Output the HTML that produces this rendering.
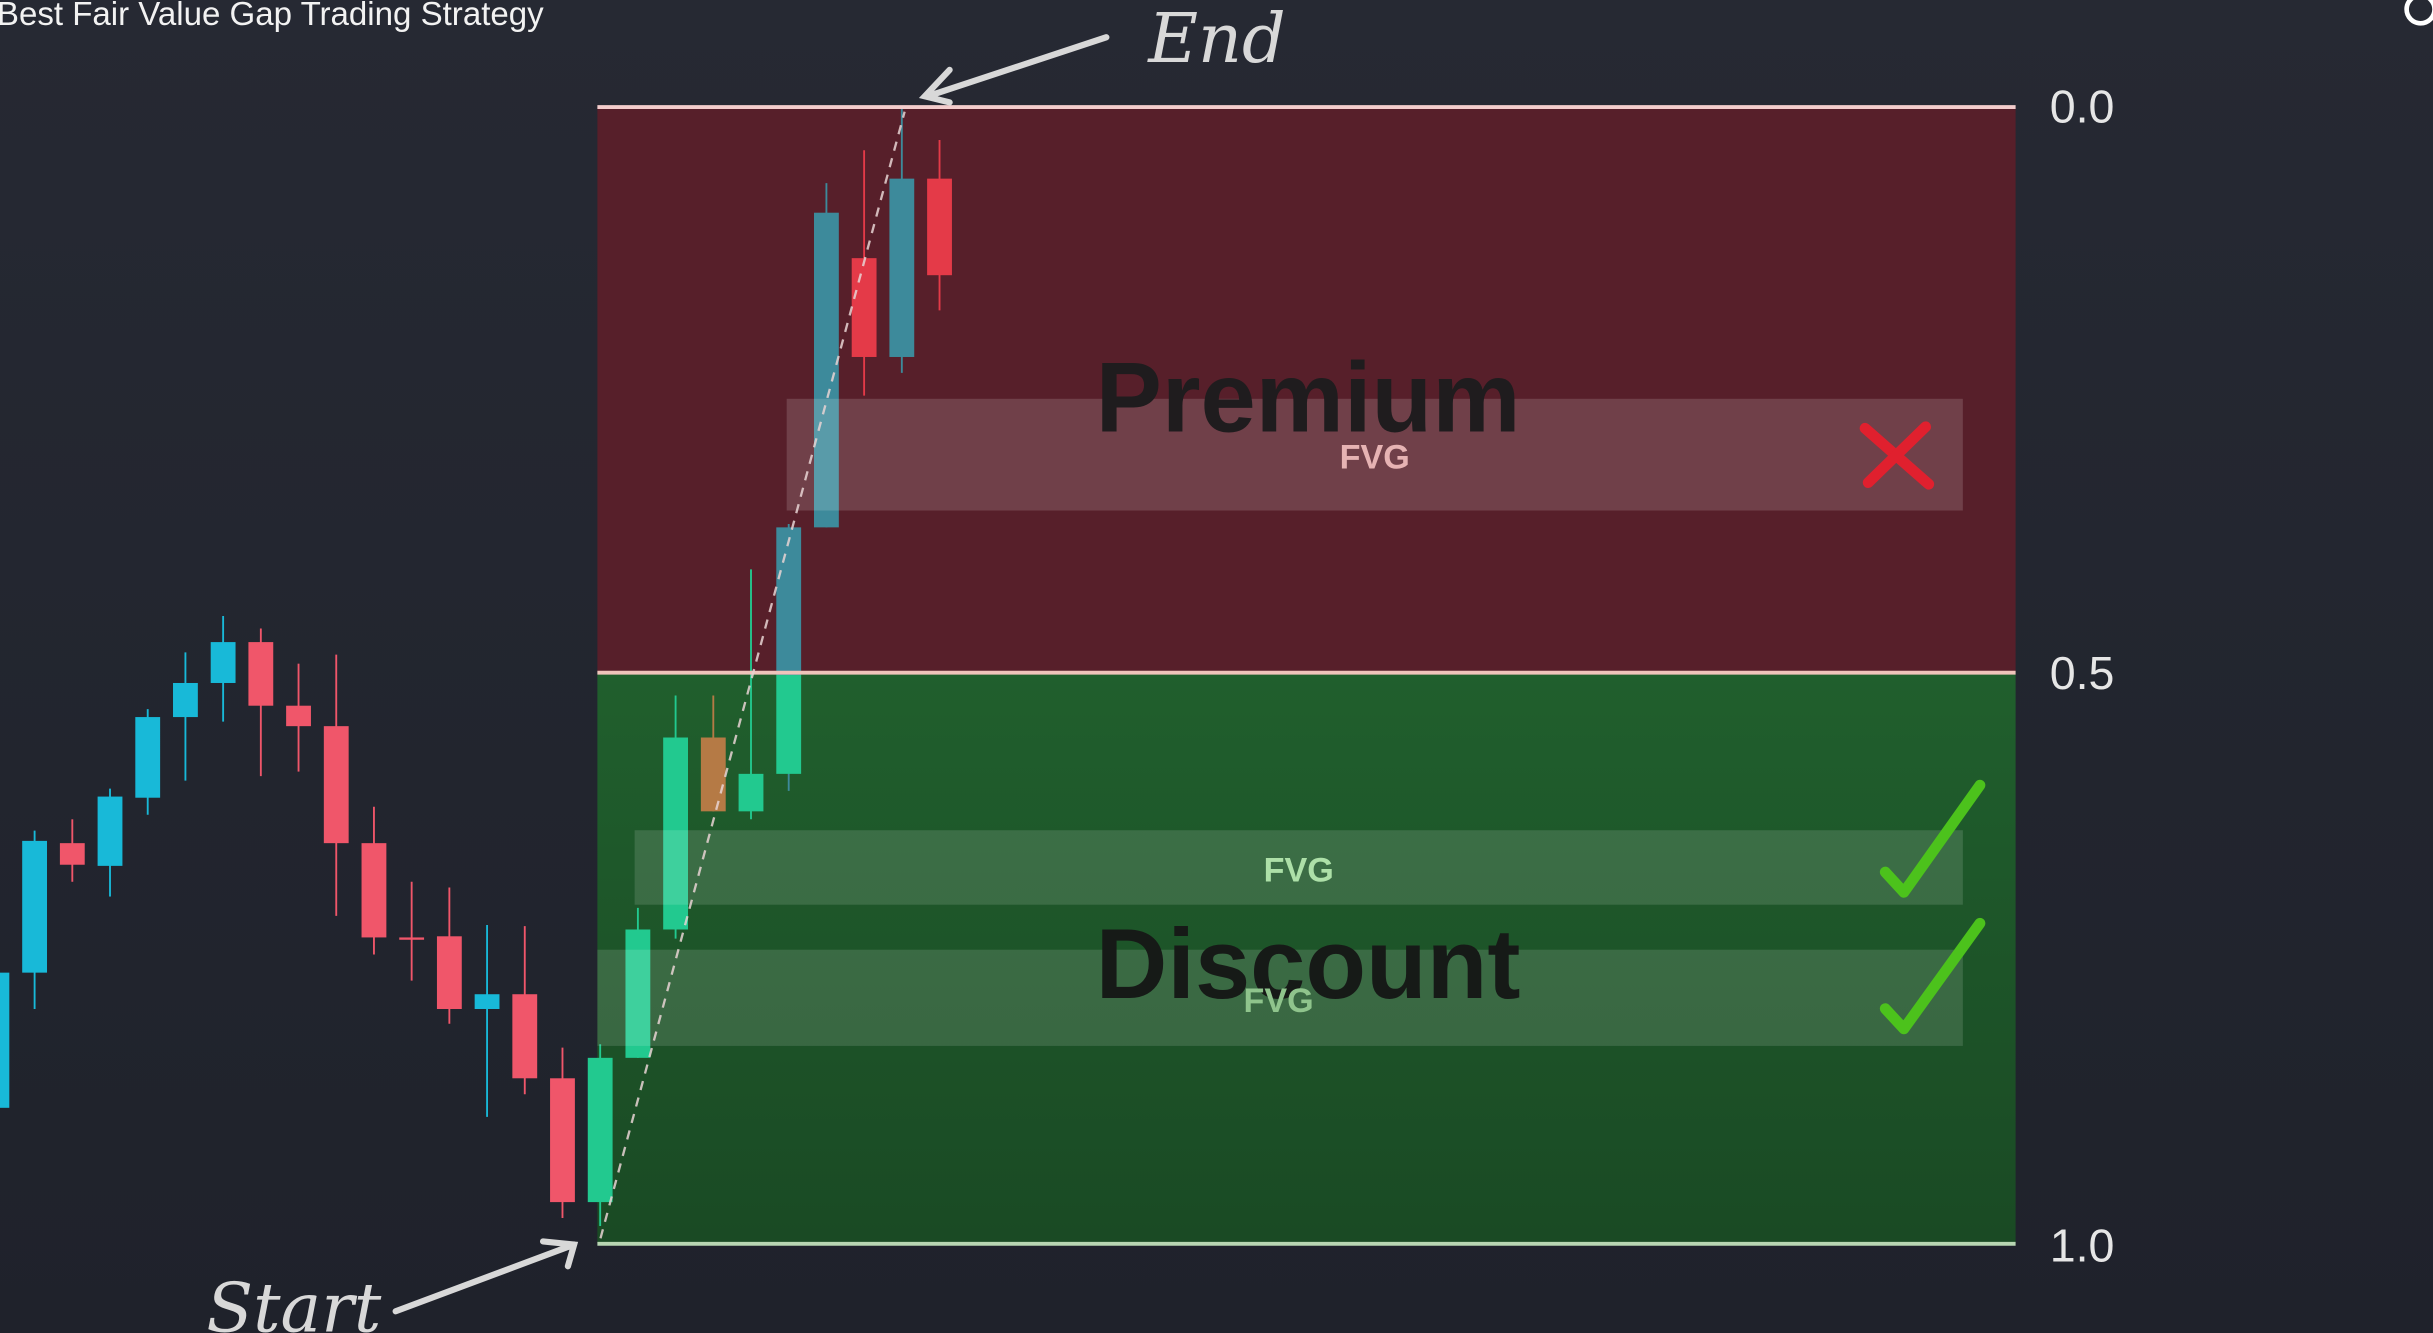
<!DOCTYPE html>
<html><head><meta charset="utf-8"><style>
html,body{margin:0;padding:0;background:#22252f;overflow:hidden}
svg{display:block}
</style></head><body>
<svg id="chart" width="2433" height="1333" viewBox="0 0 1568 859" preserveAspectRatio="none" xmlns="http://www.w3.org/2000/svg">
<defs>
<linearGradient id="bg" x1="0" y1="0" x2="0" y2="1"><stop offset="0" stop-color="#262933"/><stop offset="1" stop-color="#1f222b"/></linearGradient>
<linearGradient id="disc" x1="0" y1="0" x2="0" y2="1"><stop offset="0" stop-color="#205f2d"/><stop offset="1" stop-color="#1a4a24"/></linearGradient>
</defs>
<rect x="0" y="0" width="1568" height="859" fill="url(#bg)"/>
<text x="-2" y="16" font-family="Liberation Sans, sans-serif" font-size="21.3" fill="#f2f2f2">Best Fair Value Gap Trading Strategy</text>
<circle cx="1560" cy="6" r="9" fill="none" stroke="#fff" stroke-width="3"/>
<rect x="385" y="69" width="914" height="364" fill="#571f2a"/>
<rect x="385" y="433" width="914" height="368" fill="url(#disc)"/>
<g id="candles"></g>
<line x1="385" y1="69" x2="1299" y2="69" stroke="#f3cccc" stroke-width="2.5"/>
<line x1="385" y1="433.5" x2="1299" y2="433.5" stroke="#f0c4bb" stroke-width="2.5"/>
<line x1="385" y1="801.5" x2="1299" y2="801.5" stroke="#b8d6b3" stroke-width="2.5"/>
<rect x="507" y="257" width="758" height="72" fill="rgba(255,255,255,0.15)"/>
<rect x="409" y="535" width="856" height="48" fill="rgba(255,255,255,0.13)"/>
<rect x="385" y="612" width="880" height="62" fill="rgba(255,255,255,0.13)"/>
<line x1="387" y1="798" x2="583" y2="72" stroke="#e8d4d4" stroke-width="1.5" stroke-dasharray="6 5" opacity="0.85"/>
<text x="843" y="278" text-anchor="middle" font-family="Liberation Sans, sans-serif" font-weight="bold" font-size="64" fill="#1f1c1e">Premium</text>
<text x="843" y="643" text-anchor="middle" font-family="Liberation Sans, sans-serif" font-weight="bold" font-size="64" fill="#161a17">Discount</text>
<text x="886" y="302" text-anchor="middle" font-family="Liberation Sans, sans-serif" font-weight="bold" font-size="22" fill="#e6b3b3">FVG</text>
<text x="837" y="568" text-anchor="middle" font-family="Liberation Sans, sans-serif" font-weight="bold" font-size="22" fill="#ade0a8">FVG</text>
<text x="824" y="652" text-anchor="middle" font-family="Liberation Sans, sans-serif" font-weight="bold" font-size="22" fill="#8fc48c">FVG</text>
<g font-family="Liberation Sans, sans-serif" font-size="30" fill="#e6e6e6">
<text x="1321" y="79">0.0</text>
<text x="1321" y="444">0.5</text>
<text x="1321" y="813">1.0</text>
</g>
<g stroke="#e0202e" stroke-width="7" stroke-linecap="round">
<line x1="1202" y1="276" x2="1243" y2="312"/><line x1="1241" y1="275" x2="1204" y2="311"/>
</g>
<path d="M1215 562 L1227 575 L1276 506" fill="none" stroke="#4cc21c" stroke-width="7" stroke-linecap="round" stroke-linejoin="round"/>
<path d="M1215 650 L1227 663 L1276 595" fill="none" stroke="#4cc21c" stroke-width="7" stroke-linecap="round" stroke-linejoin="round"/>
<text x="740" y="40" font-family="DejaVu Serif, serif" font-style="italic" font-size="44" fill="#d8d8d8">End</text>
<path d="M713 24 L598 62 M612 45 L596 62 L612 66" fill="none" stroke="#d8d8d8" stroke-width="4" stroke-linecap="round"/>
<text x="133" y="858" font-family="DejaVu Serif, serif" font-style="italic" font-size="44" fill="#d8d8d8">Start</text>
<path d="M255 845 L370 802 M350 800 L370 802 L366 816" fill="none" stroke="#d8d8d8" stroke-width="4" stroke-linecap="round"/>
</svg>
<script>
const opens  = [111.9,123.8,135.2,133.2,139.2,146.3,149.3,152.9,147.3,145.5,135.2,126.9,127.0,120.6,121.9,114.5,103.6,116.3,127.6,144.5,138.0,141.3,163.0,186.7,178.0,193.7];
const highs  = [125.8,136.3,137.3,140.0,147.0,152.0,155.2,154.1,151.0,151.8,138.4,131.8,131.3,128.0,127.9,117.2,117.5,129.5,148.2,148.2,159.3,163.3,193.3,196.2,200.0,197.1];
const lows   = [109.7,120.6,131.8,130.5,137.7,140.7,145.9,141.1,141.5,128.8,125.4,123.1,119.3,111.1,113.1,102.2,101.5,116.3,126.8,138.0,137.3,139.8,163.0,174.6,176.6,182.1];
const closes = [123.8,135.4,133.3,139.3,146.3,149.3,152.9,147.3,145.5,135.2,126.9,126.8,120.6,121.9,114.5,103.6,116.3,127.6,144.5,138.0,141.3,163.0,190.7,178.0,193.7,185.2];
const specialIdx = [19];
const levelLow = 100, levelHigh = 200;
const yTop = 69, yBot = 801, x0 = -2, step = 24.3, bodyW = 16, zoneX = 385;
function yScale(p){ return yBot - (p - levelLow) / (levelHigh - levelLow) * (yBot - yTop); }
function xScale(i){ return x0 + i * step; }
const ns = 'http://www.w3.org/2000/svg';
const g = document.getElementById('candles');
const midP = (levelLow + levelHigh) / 2;
opens.forEach((o, i) => {
  const c = closes[i], h = highs[i], l = lows[i];
  const x = xScale(i), up = c >= o;
  const inZone = x >= zoneX - 4;
  const top = Math.max(o, c), bot = Math.min(o, c);
  function col(p){
    if (specialIdx.includes(i)) return '#b57a45';
    if (!inZone) return up ? '#18b9d8' : '#f0566a';
    if (!up) return '#e43a48';
    return p > midP ? '#3d8a9b' : '#22c98f';
  }
  const wick = document.createElementNS(ns, 'line');
  
  
  wick.setAttribute('x1', x); wick.setAttribute('x2', x);
  wick.setAttribute('y1', yScale(h)); wick.setAttribute('y2', yScale(l));
  wick.setAttribute('stroke', col(top)); wick.setAttribute('stroke-width', 1.2);
  g.appendChild(wick);
  const segs = [];
  if (inZone && up && top > midP && bot < midP) { segs.push([top, midP]); segs.push([midP, bot]); }
  else segs.push([top, bot]);
  segs.forEach(s => {
    const r = document.createElementNS(ns, 'rect');
    
    
    r.setAttribute('x', x - bodyW / 2);
    r.setAttribute('y', yScale(s[0]));
    r.setAttribute('width', bodyW);
    r.setAttribute('height', Math.max(1.5, yScale(s[1]) - yScale(s[0])));
    r.setAttribute('fill', col((s[0] + s[1]) / 2));
    g.appendChild(r);
  });
});
</script>
</body></html>
